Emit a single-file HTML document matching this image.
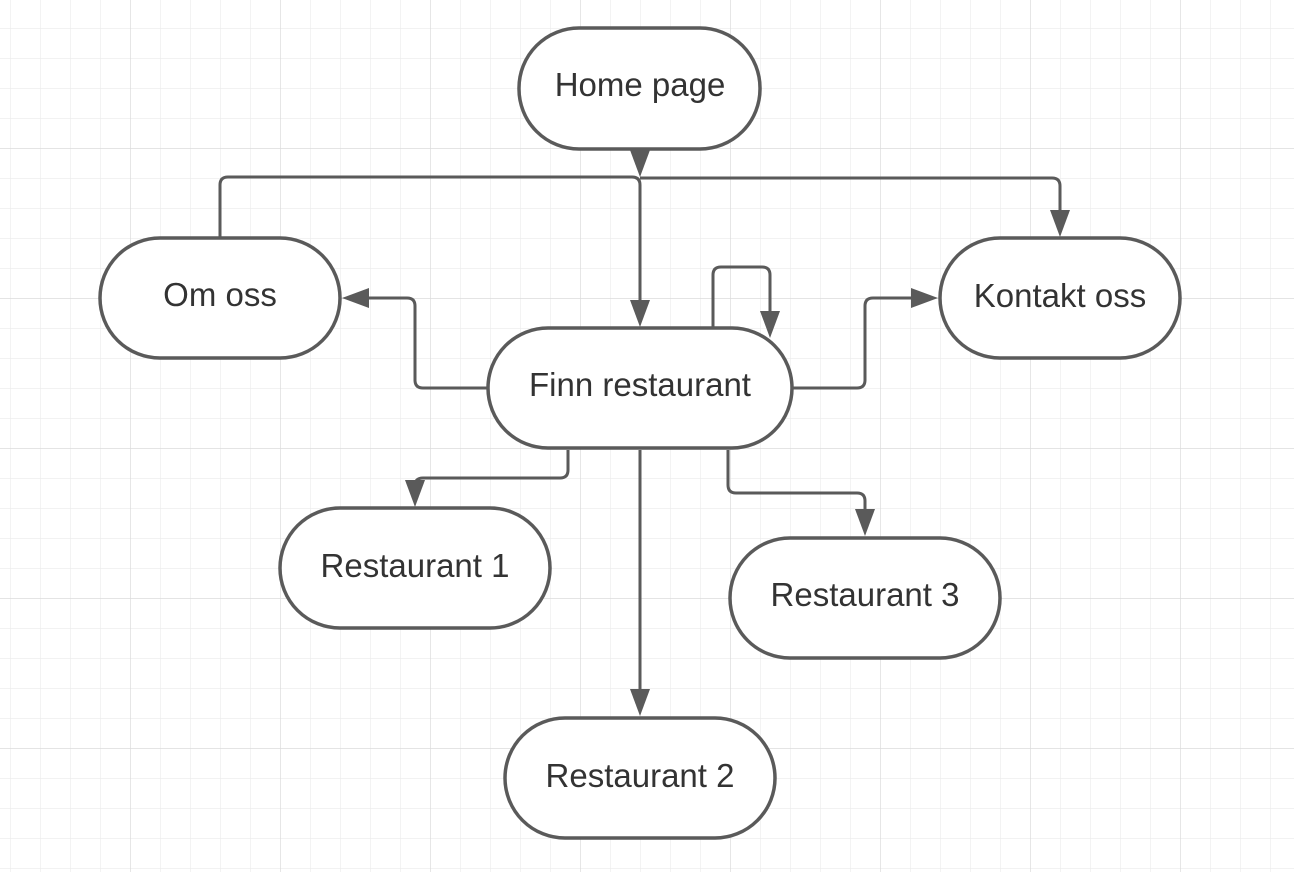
<!DOCTYPE html>
<html><head><style>
html,body{margin:0;padding:0;background:#fff;}
svg{display:block}
</style></head><body>
<svg width="1294" height="872" xmlns="http://www.w3.org/2000/svg">
<defs>
<pattern id="g" x="10" y="28" width="30" height="30" patternUnits="userSpaceOnUse">
<path d="M0 0H30M0 0V30" stroke="#ebebeb" stroke-width="1.2" fill="none"/>
</pattern>
<pattern id="G" x="130" y="148" width="150" height="150" patternUnits="userSpaceOnUse">
<path d="M0 0H150M0 0V150" stroke="#dcdcdc" stroke-width="1.4" fill="none"/>
</pattern>
</defs>
<rect width="1294" height="872" fill="url(#g)"/>
<rect width="1294" height="872" fill="url(#G)"/>
<g fill="none" stroke="#5a5a5a" stroke-width="3">
<path d="M220 238V185Q220 177 228 177H632Q640 177 640 185V310"/>
<path d="M640 178H1052Q1060 178 1060 186V220"/>
<path d="M488 388H423Q415 388 415 380V306Q415 298 407 298H360"/>
<path d="M792 388H857Q865 388 865 380V306Q865 298 873 298H920"/>
<path d="M713 328V275Q713 267 721 267H762Q770 267 770 275V320"/>
<path d="M568 450V470Q568 478 560 478H423Q415 478 415 486V490"/>
<path d="M640 450V698"/>
<path d="M728 450V485Q728 493 736 493H857Q865 493 865 501V518"/>
</g>
<g fill="#5a5a5a">
<path d="M630 150L650 150L640 177z"/>
<path d="M630 300L650 300L640 327z"/>
<path d="M1050 210L1070 210L1060 237z"/>
<path d="M369 288L369 308L342 298z"/>
<path d="M911 288L911 308L938 298z"/>
<path d="M760 311L780 311L770 338z"/>
<path d="M405 480L425 480L415 507z"/>
<path d="M630 689L650 689L640 716z"/>
<path d="M855 509L875 509L865 536z"/>
</g>
<g fill="#fff" stroke="#5a5a5a" stroke-width="3.5">
<rect x="519" y="28" width="241" height="121" rx="60"/>
<rect x="100" y="238" width="240" height="120" rx="60"/>
<rect x="940" y="238" width="240" height="120" rx="60"/>
<rect x="488" y="328" width="304" height="120" rx="60"/>
<rect x="280" y="508" width="270" height="120" rx="60"/>
<rect x="730" y="538" width="270" height="120" rx="60"/>
<rect x="505" y="718" width="270" height="120" rx="60"/>
</g>
<g font-family="Liberation Sans, sans-serif" font-size="33" fill="#333" text-anchor="middle">
<text x="640" y="96">Home page</text>
<text x="220" y="306">Om oss</text>
<text x="1060" y="307">Kontakt oss</text>
<text x="640" y="396">Finn restaurant</text>
<text x="415" y="577">Restaurant 1</text>
<text x="865" y="606">Restaurant 3</text>
<text x="640" y="787">Restaurant 2</text>
</g>
</svg>
</body></html>
